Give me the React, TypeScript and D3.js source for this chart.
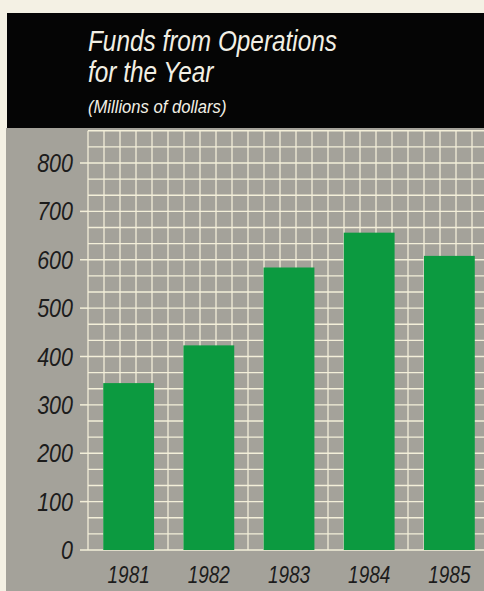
import React from "react";
import * as d3 from "d3";

const years = ["1981", "1982", "1983", "1984", "1985"];
const funds = [345, 423, 584, 656, 608];
const yTicks = [0, 100, 200, 300, 400, 500, 600, 700, 800];
const titleLines = ["Funds from Operations", "for the Year"];
const subtitle = "(Millions of dollars)";

const W = 484;
const H = 591;
const FONT = "'Liberation Sans', Arial, sans-serif";

export default function App() {
  const y = d3.scaleLinear().domain([0, 800]).range([550, 163]);
  const x = d3
    .scaleBand<string>()
    .domain(years)
    .range([88, 490])
    .paddingInner(0.366)
    .paddingOuter(0.19);

  const gridTop = y(2600 / 3);
  const hLines = d3.range(0, 27).map((k) => (k * 100) / 3);
  const vLines = d3.range(88, W + 1, 16);

  const cream = "#f3efd9";
  const ink = "#1c1c1c";
  const white = "#f2efe4";
  return (
    <svg
      width={W}
      height={H}
      style={{ position: "absolute", left: 0, top: 0, display: "block" }}
    >
      <rect x={0} y={0} width={W} height={H} fill="#f4f1e4" />
      <rect x={7} y={13} width={W - 7} height={115} fill="#050505" />
      <rect x={6} y={128} width={W - 6} height={H - 128} fill="#a4a29a" />

      {/* grid */}
      {hLines.map((v, i) => (
        <line
          key={"h" + i}
          x1={88}
          x2={W}
          y1={y(v)}
          y2={y(v)}
          stroke={cream}
          strokeWidth={1.3}
        />
      ))}
      {vLines.map((vx, i) => (
        <line
          key={"v" + i}
          x1={vx}
          x2={vx}
          y1={gridTop}
          y2={y(0)}
          stroke={cream}
          strokeWidth={1.3}
        />
      ))}

      {/* y ticks */}
      {yTicks.map((t) => (
        <g key={"t" + t}>
          <line x1={80} x2={88} y1={y(t)} y2={y(t)} stroke={cream} strokeWidth={1.5} />
          <g transform={`translate(73,${y(t) + 9}) scale(0.86,1)`}>
            <text
              x={0}
              y={0}
              textAnchor="end"
              fontFamily={FONT}
              fontStyle="italic"
              fontSize={25}
              fill={ink}
            >
              {t}
            </text>
          </g>
        </g>
      ))}

      {/* bars */}
      {years.map((yr, i) => (
        <rect
          key={yr}
          x={x(yr)}
          y={y(funds[i])}
          width={x.bandwidth()}
          height={y(0) - y(funds[i])}
          fill="#0c9a40"
        />
      ))}

      {/* x labels */}
      {years.map((yr) => (
        <g
          key={"l" + yr}
          transform={`translate(${(x(yr) as number) + x.bandwidth() / 2},583) scale(0.79,1)`}
        >
          <text
            x={0}
            y={0}
            textAnchor="middle"
            fontFamily={FONT}
            fontStyle="italic"
            fontSize={24}
            fill={ink}
          >
            {yr}
          </text>
        </g>
      ))}

      {/* title */}
      {titleLines.map((l, i) => (
        <g key={"ti" + i} transform={`translate(88,${51 + i * 31}) scale(0.84,1)`}>
          <text
            x={0}
            y={0}
            fontFamily={FONT}
            fontStyle="italic"
            fontSize={29}
            fill={white}
          >
            {l}
          </text>
        </g>
      ))}
      <g transform="translate(88,113) scale(0.95,1)">
        <text x={0} y={0} fontFamily={FONT} fontStyle="italic" fontSize={17.5} fill={white}>
          {subtitle}
        </text>
      </g>
    </svg>
  );
}
